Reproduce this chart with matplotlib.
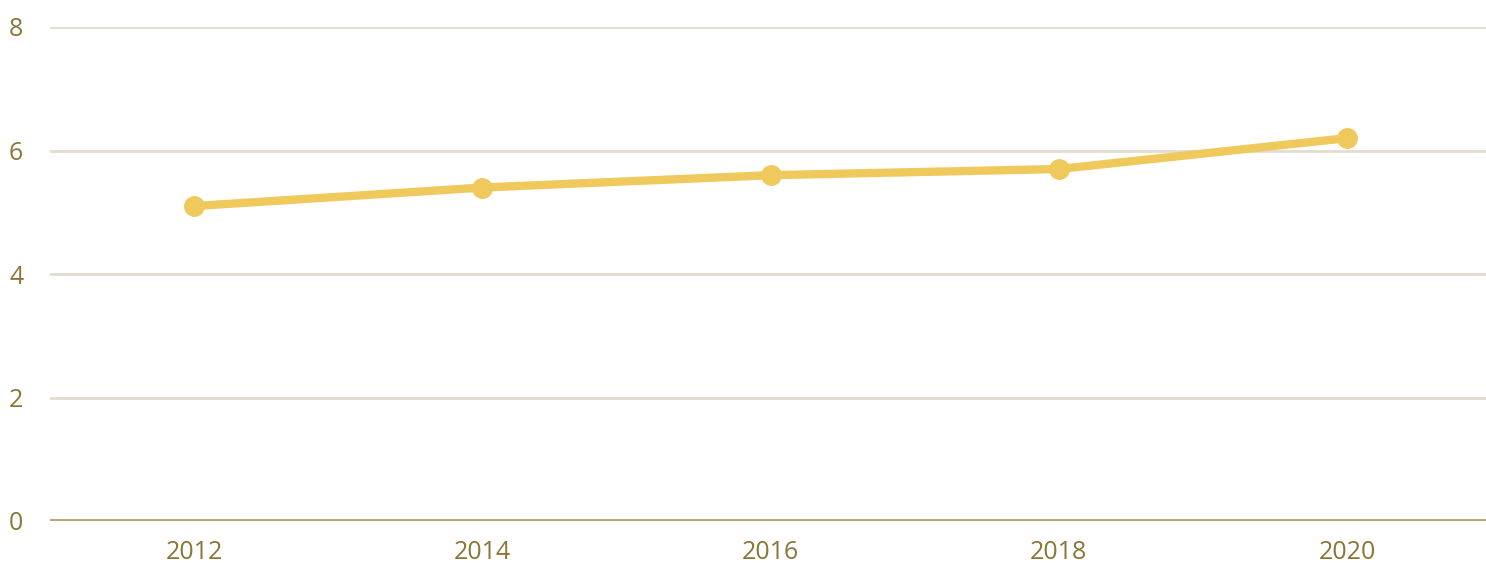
import matplotlib
matplotlib.use('Agg')
import matplotlib.pyplot as plt

years = [2012, 2014, 2016, 2018, 2020]
values = [5.1, 5.4, 5.6, 5.7, 6.2]
y_ticks = [0, 2, 4, 6, 8]

text_color = '#8B7536'
grid_color = '#E2DCCF'
base_color = '#B5A676'
line_color = '#F0C95C'

plt.rcParams['font.family'] = ['Open Sans', 'DejaVu Sans']

fig = plt.figure(figsize=(14.86, 5.66), dpi=100)
ax = fig.add_axes([50 / 1486, 1 - 521 / 566, 1 - 50 / 1486, (521 - 27) / 566])

ax.plot(years, values, color=line_color, linewidth=6, marker='o',
        markersize=14, solid_capstyle='round', zorder=3)

ax.set_xlim(2011, 2020.965)
ax.set_ylim(0, 8)
ax.set_xticks(years)
ax.set_yticks(y_ticks)
ax.grid(axis='y', color=grid_color, linewidth=2)
ax.axhline(0, color=base_color, linewidth=2.8, zorder=2)

for s in ax.spines.values():
    s.set_visible(False)
ax.tick_params(length=0, labelsize=18, colors=text_color)
ax.tick_params(axis='x', pad=14)
for lbl in ax.get_yticklabels():
    lbl.set_horizontalalignment('left')
    lbl.set_x(-41 / 1436)
ax.tick_params(axis='y', pad=0)

fig.savefig('out.png', dpi=100)
